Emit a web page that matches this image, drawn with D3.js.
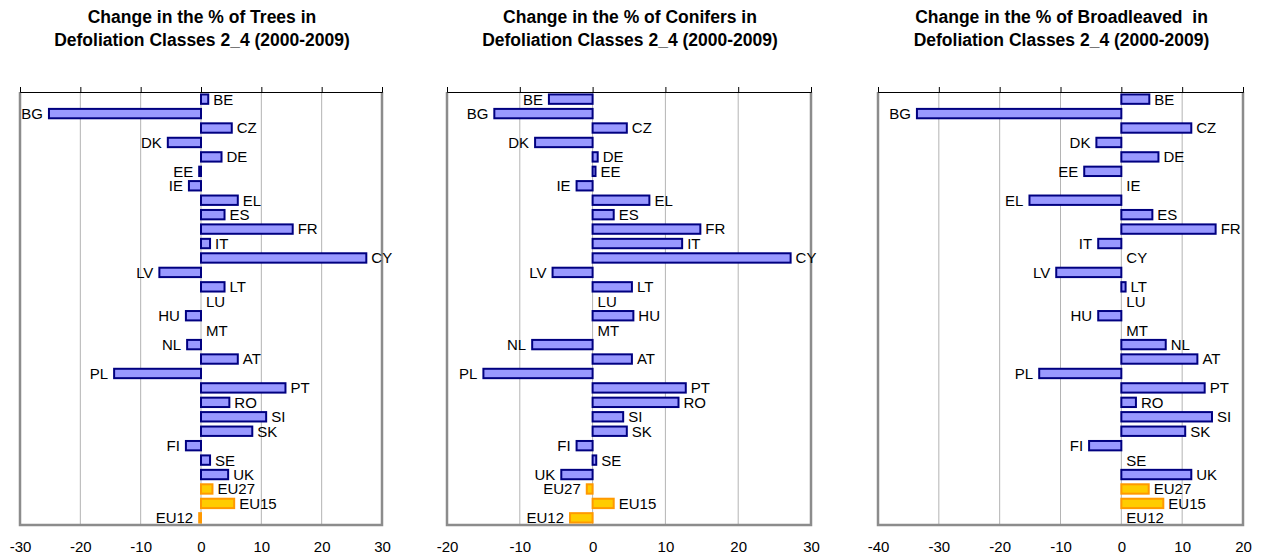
<!DOCTYPE html>
<html lang="en">
<head>
<meta charset="UTF-8">
<title>Defoliation change 2000-2009</title>
<script src="https://d3js.org/d3.v7.min.js"></script>
<style>
  body { margin: 0; background: #fff; }
  text { font-family: "Liberation Sans", Arial, sans-serif; fill: #000; }
</style>
</head>
<body>
<svg id="chart" width="1261" height="559"></svg>
<script>
// categories, top to bottom
const categories = ["BE","BG","CZ","DK","DE","EE","IE","EL","ES","FR","IT","CY","LV","LT","LU",
  "HU","MT","NL","AT","PL","PT","RO","SI","SK","FI","SE","UK","EU27","EU15","EU12"];
const aggregates = ["EU27","EU15","EU12"];

// change in % of trees in defoliation classes 2-4
const trees = [1.2,-25.2,5.1,-5.5,3.4,-0.3,-2.0,6.1,3.9,15.2,1.5,27.4,-6.9,3.9,0,
  -2.5,0,-2.3,6.1,-14.4,14.0,4.7,10.8,8.5,-2.5,1.5,4.5,1.9,5.5,-0.3];
const conifers = [-6.0,-13.5,4.7,-7.9,0.7,0.4,-2.2,7.8,2.9,14.8,12.3,27.2,-5.5,5.4,0,
  5.6,0,-8.3,5.4,-15.0,12.8,11.8,4.2,4.7,-2.2,0.5,-4.3,-0.8,2.9,-3.1];
const broadleaved = [4.6,-33.6,11.5,-4.1,6.1,-6.1,0,-15.1,5.1,15.5,-3.8,0,-10.7,0.7,0,
  -3.8,0,7.3,12.5,-13.5,13.7,2.4,14.9,10.5,-5.3,0,11.5,4.5,6.9,0];

const titles = [
  ["Change in the % of Trees in", "Defoliation Classes 2_4 (2000-2009)"],
  ["Change in the % of Conifers in", "Defoliation Classes 2_4 (2000-2009)"],
  ["Change in the % of Broadleaved  in", "Defoliation Classes 2_4 (2000-2009)"]
];
const domains = [[-30, 30], [-20, 30], [-40, 20]];
const tickValues = [
  [-30,-20,-10,0,10,20,30],
  [-20,-10,0,10,20,30],
  [-40,-30,-20,-10,0,10,20]
];

const panels = [
  { values: trees, left: 20, right: 382 },
  { values: conifers, left: 447, right: 811 },
  { values: broadleaved, left: 878, right: 1243 }
];

const plotTop = 92, plotBottom = 525;
const svg = d3.select("#chart");

panels.forEach((p, i) => {
  const x = d3.scaleLinear().domain(domains[i]).range([p.left, p.right]);
  const y = d3.scaleBand().domain(categories).range([plotTop, plotBottom]).paddingInner(0.35).paddingOuter(0.17);
  const g = svg.append("g");

  // title (two lines, keep double space)
  const cx = (p.left + p.right) / 2 + 1;
  titles[i].forEach((t, k) => {
    g.append("text").attr("x", cx).attr("y", 23 + k * 23).attr("text-anchor", "middle")
      .style("font-size", "17.5px").style("font-weight", "bold").style("white-space", "pre")
      .text(t);
  });

  // gridlines
  g.selectAll(".grid").data(tickValues[i].slice(1, -1)).enter().append("line")
    .attr("x1", d => x(d)).attr("x2", d => x(d))
    .attr("y1", plotTop).attr("y2", plotBottom)
    .attr("stroke", "#b4b4b4").attr("stroke-width", 1);

  // frame: left, right, bottom in grey
  g.append("path")
    .attr("d", `M${p.left},${plotTop}V${plotBottom}H${p.right}V${plotTop}`)
    .attr("fill", "none").attr("stroke", "#8c8c8c").attr("stroke-width", 2.5);

  // top axis with small outward ticks
  const axTop = g.append("g").attr("transform", `translate(0,${plotTop})`)
    .call(d3.axisTop(x).tickValues(tickValues[i]).tickSize(5).tickFormat(""));
  axTop.selectAll("path, line").attr("stroke", "#000").attr("stroke-width", 1);

  // bottom tick labels
  const axBot = g.append("g").attr("transform", `translate(0,${plotBottom + 13})`)
    .call(d3.axisBottom(x).tickValues(tickValues[i]).tickSize(0).tickFormat(d => String(d)));
  axBot.select(".domain").remove();
  axBot.selectAll("text").style("font-size", "15px")
    .style("font-family", "'Liberation Sans', Arial, sans-serif").attr("fill", "#000");

  // bars
  const rows = categories.map((c, k) => ({ c, v: p.values[k], agg: aggregates.includes(c) }));
  g.selectAll(".bar").data(rows.filter(d => d.v !== 0)).enter().append("rect")
    .attr("x", d => x(Math.min(0, d.v)))
    .attr("y", d => y(d.c))
    .attr("width", d => Math.abs(x(d.v) - x(0)))
    .attr("height", y.bandwidth())
    .attr("fill", d => d.agg ? "#ffcc00" : "#9999ff")
    .attr("stroke", d => d.agg ? "#ff9900" : "#000080")
    .attr("stroke-width", 2);

  // labels at bar ends
  g.selectAll(".lbl").data(rows).enter().append("text")
    .attr("x", d => d.v < 0 ? x(d.v) - 6 : x(d.v) + 5)
    .attr("y", d => y(d.c) + y.bandwidth() / 2)
    .attr("dy", "0.36em")
    .attr("text-anchor", d => d.v < 0 ? "end" : "start")
    .style("font-size", "15px")
    .text(d => d.c);
});
</script>
</body>
</html>
